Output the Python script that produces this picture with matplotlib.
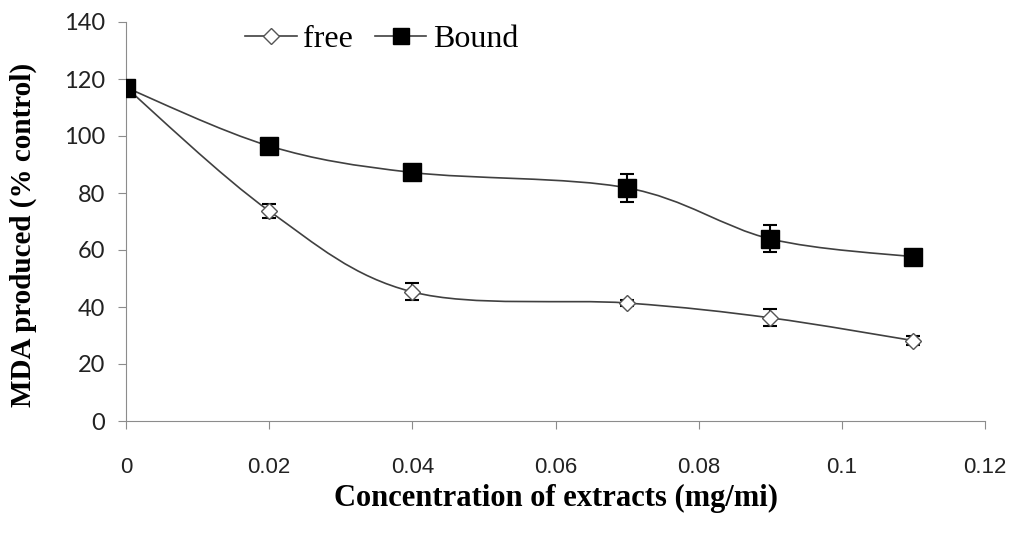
import numpy as np
import matplotlib
matplotlib.use("Agg")
import matplotlib.pyplot as plt
from matplotlib.path import Path
from matplotlib.patches import PathPatch

# data
conc = [0, 0.02, 0.04, 0.07, 0.09, 0.11]
free_vals = [117, 73.7, 45.3, 41.4, 36.2, 28.2]
free_err = [0, 2.5, 3.0, 1.2, 3.0, 1.5]
bound_vals = [117, 96.5, 87.2, 81.8, 63.9, 57.6]
bound_err = [0, 0, 0, 5.0, 4.7, 2.0]

x_ticks = [0, 0.02, 0.04, 0.06, 0.08, 0.1, 0.12]
x_tick_labels = ["0", "0.02", "0.04", "0.06", "0.08", "0.1", "0.12"]
y_ticks = [0, 20, 40, 60, 80, 100, 120, 140]

LINE = "#404040"
AXIS = "#8c8c8c"


def smooth_path(xs, ys):
    # Excel-style smoothed line: cubic bezier segments through the points
    pts = np.column_stack([xs, ys]).astype(float)
    verts = [pts[0]]
    codes = [Path.MOVETO]
    n = len(pts)
    for i in range(n - 1):
        p0 = pts[i - 1] if i > 0 else pts[i]
        p1 = pts[i]
        p2 = pts[i + 1]
        p3 = pts[i + 2] if i + 2 < n else pts[i + 1]
        c1 = p1 + (p2 - p0) / 6.0
        c2 = p2 - (p3 - p1) / 6.0
        verts += [c1, c2, p2]
        codes += [Path.CURVE4] * 3
    return Path(verts, codes)


fig = plt.figure(figsize=(10.11, 5.35), dpi=100)
ax = fig.add_axes([126 / 1011, 114 / 535, (985 - 126) / 1011, (421 - 22) / 535])

for vals in (free_vals, bound_vals):
    ax.add_patch(PathPatch(smooth_path(conc, vals), facecolor="none",
                           edgecolor=LINE, linewidth=1.2, zorder=2))

ax.errorbar(conc, free_vals, yerr=free_err, fmt="none", ecolor="black",
            elinewidth=1.5, capsize=5, capthick=1.5, zorder=3)
ax.errorbar(conc, bound_vals, yerr=bound_err, fmt="none", ecolor="black",
            elinewidth=1.5, capsize=5, capthick=1.5, zorder=3)

ax.plot(conc, free_vals, linestyle="none", marker="D", markersize=8,
        markerfacecolor="white", markeredgecolor="#555555",
        markeredgewidth=1.0, zorder=4)
ax.plot(conc, bound_vals, linestyle="none", marker="s", markersize=13,
        markerfacecolor="black", markeredgecolor="black", zorder=5)

# legend proxies
h_free, = ax.plot([], [], color=LINE, linewidth=1.2, marker="D", markersize=8,
                  markerfacecolor="white", markeredgecolor="#555555")
h_bound, = ax.plot([], [], color=LINE, linewidth=1.2, marker="s", markersize=12,
                   markerfacecolor="black", markeredgecolor="black")
ax.legend([h_free, h_bound], ["free", "Bound"], ncol=2, frameon=False,
          loc="upper left", bbox_to_anchor=(0.139, 0.993), borderpad=0,
          borderaxespad=0, handlelength=1.6, columnspacing=0.7,
          handletextpad=0.2, prop={"family": "Liberation Serif", "size": 23})

ax.set_xlim(0, 0.12)
ax.set_ylim(0, 140)
ax.set_xticks(x_ticks)
ax.set_xticklabels(x_tick_labels, family=["Liberation Sans Narrow", "Liberation Sans"],
                   fontsize=16, color="#222222")
ax.set_yticks(y_ticks)
ax.set_yticklabels([str(v) for v in y_ticks], family="Lato", fontsize=17,
                   color="#222222")
ax.tick_params(axis="x", direction="out", length=6, color=AXIS, pad=20)
ax.tick_params(axis="y", direction="out", length=6, color=AXIS, pad=9)

ax.spines[["top", "right"]].set_visible(False)
ax.spines[["left", "bottom"]].set_color(AXIS)

ax.set_xlabel("Concentration of extracts (mg/mi)", family="Liberation Serif",
              fontweight="bold", fontsize=22, labelpad=4)
ax.set_ylabel("MDA produced (% control)", family="Liberation Serif",
              fontweight="bold", fontsize=21)
ax.yaxis.set_label_coords(-0.104, 0.466)

fig.savefig("out.png", dpi=100, facecolor="white")
